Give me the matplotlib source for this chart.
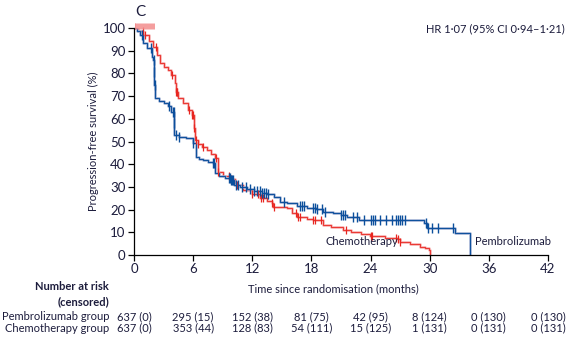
import numpy as np
import matplotlib.pyplot as plt

plt.rcParams['font.family'] = ['Lato', 'DejaVu Sans']

# Kaplan-Meier steps (months, % progression-free)
pembro_t = [0, 0.3, 0.6, 0.95, 1.3, 1.8, 1.96, 2.03, 2.06, 2.1, 2.5, 3.0, 3.4, 3.8, 4.06, 4.1,
            4.6, 5.3, 6.0, 6.3, 6.6, 7.0, 7.5, 8.0, 8.2, 8.6, 9.2, 9.8, 10.1, 10.8, 11.5, 12.2,
            13.0, 13.5, 14.2, 14.8, 15.5, 16.5, 17.5, 18.5, 19.2, 20.2, 21.0, 21.6, 22.8, 29.4,
            29.7, 32.6, 34.1]
pembro_s = [100, 98.5, 96.9, 93.2, 91.0, 87.4, 85.9, 80.8, 75.0, 69.0, 68.0, 66.8, 65.5, 63.1,
            58.0, 52.9, 52.0, 51.4, 49.2, 43.3, 42.5, 41.8, 41.0, 40.4, 36.0, 35.0, 34.0, 33.0,
            30.8, 30.0, 29.0, 28.2, 27.5, 27.0, 25.5, 23.5, 22.8, 21.5, 20.8, 20.3, 19.1, 18.3,
            17.6, 16.9, 15.4, 14.0, 12.0, 9.8, 0]

chemo_t = [0, 0.4, 0.95, 1.5, 1.96, 2.3, 2.6, 3.0, 3.4, 3.8, 4.2, 4.3, 4.5, 5.0, 5.5, 5.85, 6.1,
           6.2, 6.5, 6.9, 7.4, 7.8, 8.2, 8.5, 9.0, 9.7, 10.2, 11.1, 12.0, 12.8, 13.5, 14.0, 14.1,
           15.5, 16.0, 16.5, 17.5, 18.2, 19.2, 20.0, 21.2, 22.0, 23.0, 23.9, 25.5, 26.8, 27.0,
           28.0, 29.0, 29.5, 29.9, 30.0]
chemo_s = [100, 98.5, 96.9, 94.5, 91.8, 88.1, 84.4, 83.0, 81.5, 79.3, 76.0, 72.0, 69.0, 66.8,
           64.0, 61.7, 56.0, 50.7, 49.0, 47.5, 46.3, 44.5, 42.6, 36.5, 35.0, 33.3, 31.0, 28.6,
           27.0, 25.0, 24.0, 22.8, 21.3, 20.5, 18.4, 16.9, 16.0, 15.4, 13.2, 12.5, 11.0, 10.0,
           9.2, 8.4, 7.6, 6.9, 5.9, 4.8, 3.7, 2.9, 2.2, 0]

# censoring times
pembro_cens = [0.8, 1.7, 2.0, 2.05, 2.08, 3.6, 4.0, 4.05, 4.08, 4.3, 4.6, 6.0, 8.0, 8.1, 9.6,
               9.7, 9.8, 9.9, 10.0, 10.3, 10.5, 11.0, 11.4, 11.8, 12.2, 12.5, 12.8, 13.0, 13.2,
               13.4, 13.6, 15.2, 16.8, 17.0, 17.2, 18.2, 18.4, 18.6, 19.1, 19.4, 21.0, 21.2,
               21.4, 22.2, 22.6, 23.3, 24.0, 24.2, 24.4, 25.0, 25.6, 26.2, 26.6, 26.8, 27.0,
               27.2, 27.5, 29.6, 29.8, 30.2, 30.8, 32.4]
chemo_cens = [0.9, 1.1, 2.2, 3.9, 4.3, 4.35, 4.4, 5.6, 5.9, 6.0, 6.1, 6.3, 6.5, 7.0, 8.3, 8.5,
              9.6, 9.8, 10.4, 12.0, 12.6, 12.9, 13.1, 14.0, 14.2, 16.4, 16.6, 16.8, 18.2, 18.4,
              19.0, 21.5, 24.0, 24.1, 26.6, 26.8, 27.0]
chemo_cens_top = [0.05, 0.15, 0.25, 0.35, 0.45, 0.55, 0.65, 0.75, 0.85, 0.95, 1.05, 1.15,
                  1.25, 1.35, 1.45, 1.55, 1.65, 1.75, 1.85, 1.95, 2.05]

risk_months = [0, 6, 12, 18, 24, 30, 36, 42]
pembro_risk = ['637 (0)', '295 (15)', '152 (38)', '81 (75)', '42 (95)', '8 (124)', '0 (130)', '0 (130)']
chemo_risk = ['637 (0)', '353 (44)', '128 (83)', '54 (111)', '15 (125)', '1 (131)', '0 (131)', '0 (131)']

txt = '#1c1c3c'
blue, blue_l = '#0b4f9c', '#95a8cf'
red, red_l = '#e8251f', '#f5a8a8'
fs = 8


def step_value(t, s, x):
    i = np.searchsorted(t, x, side='right') - 1
    return np.array(s)[i]


fig = plt.figure(figsize=(5.71, 3.38), dpi=100)
ax = fig.add_axes([0.2347, 0.2456, 0.725, 0.6714])

ax.step(chemo_t, chemo_s, where='post', color=red_l, lw=1.8)
ax.step(chemo_t, chemo_s, where='post', color=red, lw=0.6)
ax.step(pembro_t, pembro_s, where='post', color=blue_l, lw=1.8)
ax.step(pembro_t, pembro_s, where='post', color=blue, lw=0.7)

ax.plot(chemo_cens, step_value(chemo_t, chemo_s, chemo_cens), ls='none', marker='|',
        ms=6, mew=0.9, color=red, clip_on=False)
ax.plot(chemo_cens_top, [100.8] * len(chemo_cens_top), ls='none', marker='|',
        ms=5, mew=0.6, color='#f28c8c', clip_on=False)
ax.plot(pembro_cens, step_value(pembro_t, pembro_s, pembro_cens), ls='none', marker='|',
        ms=7, mew=1.0, color=blue, clip_on=False)

ax.set_xlim(0, 42)
ax.set_ylim(0, 100)
ax.set_xticks(risk_months)
ax.set_yticks(range(0, 101, 10))
for s in ['top', 'right']:
    ax.spines[s].set_visible(False)
for s in ['left', 'bottom']:
    ax.spines[s].set_linewidth(0.9)
ax.tick_params(direction='out', length=4, width=0.9, labelsize=9.5, labelcolor=txt, pad=2)
ax.set_ylabel('Progression-free survival (%)', fontsize=fs, color=txt, labelpad=3)

ax.text(23.1, 3.5, 'Chemotherapy', fontsize=fs, color=txt, ha='center', va='bottom')
ax.text(38.5, 3.5, 'Pembrolizumab', fontsize=fs, color=txt, ha='center', va='bottom')

fig.text(140 / 571, 1 - 12 / 338, 'C', fontsize=11, color=txt, ha='center', va='center')
fig.text(565 / 571, 1 - 29 / 338, 'HR 1·07 (95% CI 0·94–1·21)', fontsize=fs, color=txt,
         ha='right', va='center')
fig.text(333 / 571, 1 - 289 / 338, 'Time since randomisation (months)', fontsize=fs,
         color=txt, ha='center', va='center')
fig.text(109 / 571, 1 - 286 / 338, 'Number at risk', fontsize=fs, color=txt, ha='right',
         va='center', fontweight='bold')
fig.text(109 / 571, 1 - 302 / 338, '(censored)', fontsize=fs, color=txt, ha='right',
         va='center', fontweight='bold')
fig.text(109 / 571, 1 - 317 / 338, 'Pembrolizumab group', fontsize=fs, color=txt,
         ha='right', va='center')
fig.text(109 / 571, 1 - 328 / 338, 'Chemotherapy group', fontsize=fs, color=txt,
         ha='right', va='center')

for m, p, c in zip(risk_months, pembro_risk, chemo_risk):
    xf = ax.transData.transform((m, 0))[0]
    xf = fig.transFigure.inverted().transform((xf, 0))[0]
    fig.text(xf, 1 - 317 / 338, p, fontsize=fs, color=txt, ha='center', va='center')
    fig.text(xf, 1 - 328 / 338, c, fontsize=fs, color=txt, ha='center', va='center')

fig.savefig('out.png', dpi=100)
